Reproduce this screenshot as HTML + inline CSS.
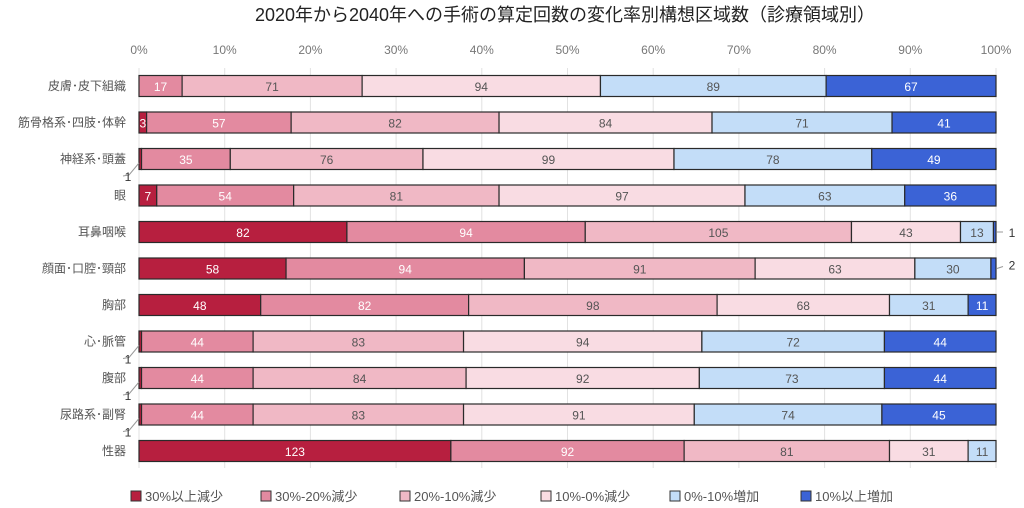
<!DOCTYPE html>
<html><head><meta charset="utf-8"><style>
body{margin:0;background:#fff;}
svg{display:block;font-family:"Liberation Sans","Noto Sans CJK JP",sans-serif;}
</style></head><body>
<svg id="c" width="1024" height="508" xmlns="http://www.w3.org/2000/svg">
<text x="565" y="21" text-anchor="middle" font-size="18" fill="#222">2020年から2040年への手術の算定回数の変化率別構想区域数（診療領域別）</text>
</svg>
<script>
const categories=["皮膚･皮下組織","筋骨格系･四肢･体幹","神経系･頭蓋","眼","耳鼻咽喉","顔面･口腔･頸部","胸部","心･脈管","腹部","尿路系･副腎","性器"];
const seriesNames=["30%以上減少","30%-20%減少","20%-10%減少","10%-0%減少","0%-10%増加","10%以上増加"];
const s1=[0,3,1,7,82,58,48,1,1,1,123];
const s2=[17,57,35,54,94,94,82,44,44,44,92];
const s3=[71,82,76,81,105,91,98,83,84,83,81];
const s4=[94,84,99,97,43,63,68,94,92,91,31];
const s5=[89,71,78,63,13,30,31,72,73,74,11];
const s6=[67,41,49,36,1,2,11,44,44,45,0];
const ticks=["0%","10%","20%","30%","40%","50%","60%","70%","80%","90%","100%"];
const series=[s1,s2,s3,s4,s5,s6];
const colors=["#b71f3f","#e38aa0","#f0b8c5","#f9dce3","#c3ddf8","#3b63d6"];
const textCol=["#fff","#fff","#555","#555","#555","#fff"];
const X0=139,X1=996,Y0=86,DY=36.5,BH=21;
const svg=document.getElementById('c');const NS="http://www.w3.org/2000/svg";
function mk(t,a,p){const e=document.createElementNS(NS,t);for(const k in a)e.setAttribute(k,a[k]);(p||svg).appendChild(e);return e;}
const xs=f=>X0+(X1-X0)*f;const ys=i=>Y0+DY*i;
ticks.forEach((t,i)=>{const x=xs(i/10);
const g=mk('line',{x1:x,x2:x,y1:68,y2:468,stroke:"#e2e2e2"});

const tx=mk('text',{x:x,y:54,'text-anchor':'middle','font-size':12,fill:'#777'});tx.textContent=t;
});
categories.forEach((c,i)=>{const y=ys(i);
const tot=series.reduce((a,s)=>a+s[i],0);let acc=0;
const lab=mk('text',{x:126,y:y+4,'text-anchor':'end','font-size':12,fill:'#555'});lab.textContent=c;

series.forEach((s,j)=>{const v=s[i];if(!v)return;const xa=xs(acc/tot);acc+=v;const xb=xs(acc/tot);
const r=mk('rect',{x:xa,y:y-BH/2,width:xb-xa,height:BH,fill:colors[j],stroke:"#2a2a2a",'stroke-width':1.2});

if(v>=3){const t=mk('text',{x:(xa+xb)/2,y:y+5,'text-anchor':'middle','font-size':12,fill:textCol[j]});t.textContent=v;
}
else if(j===0){const l=mk('polyline',{points:`${xa},${y+4} ${xa-10},${y+16} ${xa-16},${y+17}`,fill:'none',stroke:'#999'});

const t=mk('text',{x:128,y:y+22,'text-anchor':'middle','font-size':12,fill:'#333'});t.textContent=v;
}
else{const l=mk('line',{x1:xb+1,x2:1003,y1:y,y2:y-(v>1?2:0),stroke:'#999'});

const t=mk('text',{x:1012,y:y+(v>1?1:5),'text-anchor':'middle','font-size':12,fill:'#333'});t.textContent=v;
}
});});
const lx=[131,261,400,541,670,801];
seriesNames.forEach((n,j)=>{const r=mk('rect',{x:lx[j],y:491,width:10,height:10,fill:colors[j],stroke:'#333'});

const t=mk('text',{x:lx[j]+14,y:501,'font-size':13,fill:'#555'});t.textContent=n;
});
</script>
</body></html>
